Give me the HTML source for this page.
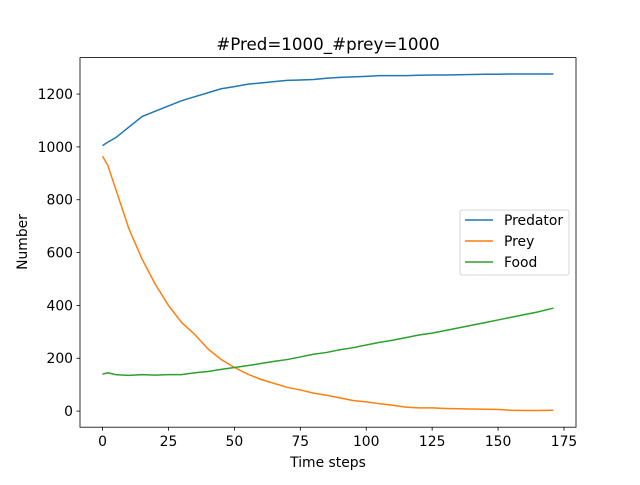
<!DOCTYPE html>
<html><head><meta charset="utf-8"><style>
body{margin:0;background:#fff;}
svg text{font-family:"DejaVu Sans","Liberation Sans",sans-serif;fill:#000;}
</style></head><body>
<svg id="chart" width="640" height="480" xmlns="http://www.w3.org/2000/svg">
<rect width="640" height="480" fill="#fff"/>
<g id="plot"></g>
</svg>
<script>
const tSteps=[0,2,5,10,15,20,25,30,35,40,45,50,55,60,65,70,75,80,85,90,95,100,105,110,115,120,125,130,135,140,145,150,155,160,165,171];
const predator=[1005,1018,1035,1075,1115,1135,1155,1175,1190,1205,1220,1228,1237,1242,1247,1252,1253,1255,1260,1263,1265,1267,1270,1270,1270,1271,1272,1272,1273,1274,1275,1275,1276,1276,1276,1276];
const prey=[965,930,840,690,575,480,400,335,290,235,195,165,140,120,105,90,80,68,60,50,40,35,28,22,15,12,12,10,9,8,7,6,3,2,2,3];
const food=[140,145,138,135,138,136,138,138,145,150,158,165,172,180,188,195,205,215,222,232,240,250,260,268,278,288,295,305,315,325,335,345,355,365,375,390];
const xTicks=[0,25,50,75,100,125,150,175];
const yTicks=[0,200,400,600,800,1000,1200];
const seriesNames=["Predator","Prey","Food"];
const colors=["#1f77b4","#ff7f0e","#2ca02c"];

const L=80,R=576,T=57.6,B=427.2;
const xmin=-8.55,xmax=179.55,ymin=-61,ymax=1338;
const X=v=>L+(v-xmin)/(xmax-xmin)*(R-L);
const Y=v=>B-(v-ymin)/(ymax-ymin)*(B-T);
const NS="http://www.w3.org/2000/svg";
const g=document.getElementById('plot');
function mk(tag,attrs,parent){const e=document.createElementNS(NS,tag);for(const k in attrs)e.setAttribute(k,attrs[k]);(parent||g).appendChild(e);return e;}

const allSeries=[predator,prey,food];
allSeries.forEach((s,i)=>{
  const p=mk('polyline',{points:s.map((v,j)=>X(tSteps[j])+','+Y(v)).join(' '),fill:'none',stroke:colors[i],'stroke-width':1.5});
  
  
});
const frame=mk('rect',{x:L,y:T,width:R-L,height:B-T,fill:'none',stroke:'#000','stroke-width':0.8});


xTicks.forEach(v=>{
  mk('line',{x1:X(v),x2:X(v),y1:B,y2:B+3.5,stroke:'#000','stroke-width':0.8});
  const t=mk('text',{x:X(v),y:B+19,'text-anchor':'middle','font-size':13.9});
  t.textContent=v;
  
  
});
yTicks.forEach(v=>{
  mk('line',{x1:L,x2:L-3.5,y1:Y(v),y2:Y(v),stroke:'#000','stroke-width':0.8});
  const t=mk('text',{x:L-7,y:Y(v)+5,'text-anchor':'end','font-size':13.9});
  t.textContent=v;
  
  
});
const title=mk('text',{x:(L+R)/2,y:50,'text-anchor':'middle','font-size':16.7});
title.textContent='#Pred=1000_#prey=1000';


const xl=mk('text',{x:(L+R)/2,y:467,'text-anchor':'middle','font-size':13.9});
xl.textContent='Time steps';


const yl=mk('text',{x:0,y:0,'text-anchor':'middle','font-size':13.9,transform:'translate(27,242) rotate(-90)'});
yl.textContent='Number';


const lg=mk('g',{});


mk('rect',{x:460,y:210,width:109,height:65,rx:2,fill:'#fff',stroke:'#ccc','stroke-width':0.8},lg);
seriesNames.forEach((n,i)=>{
  const y=220+i*21;
  mk('line',{x1:465,x2:493,y1:y,y2:y,stroke:colors[i],'stroke-width':1.5},lg);
  const t=mk('text',{x:504,y:y+5,'font-size':13.9},lg);
  t.textContent=n;
  
  
});
</script>
</body></html>
